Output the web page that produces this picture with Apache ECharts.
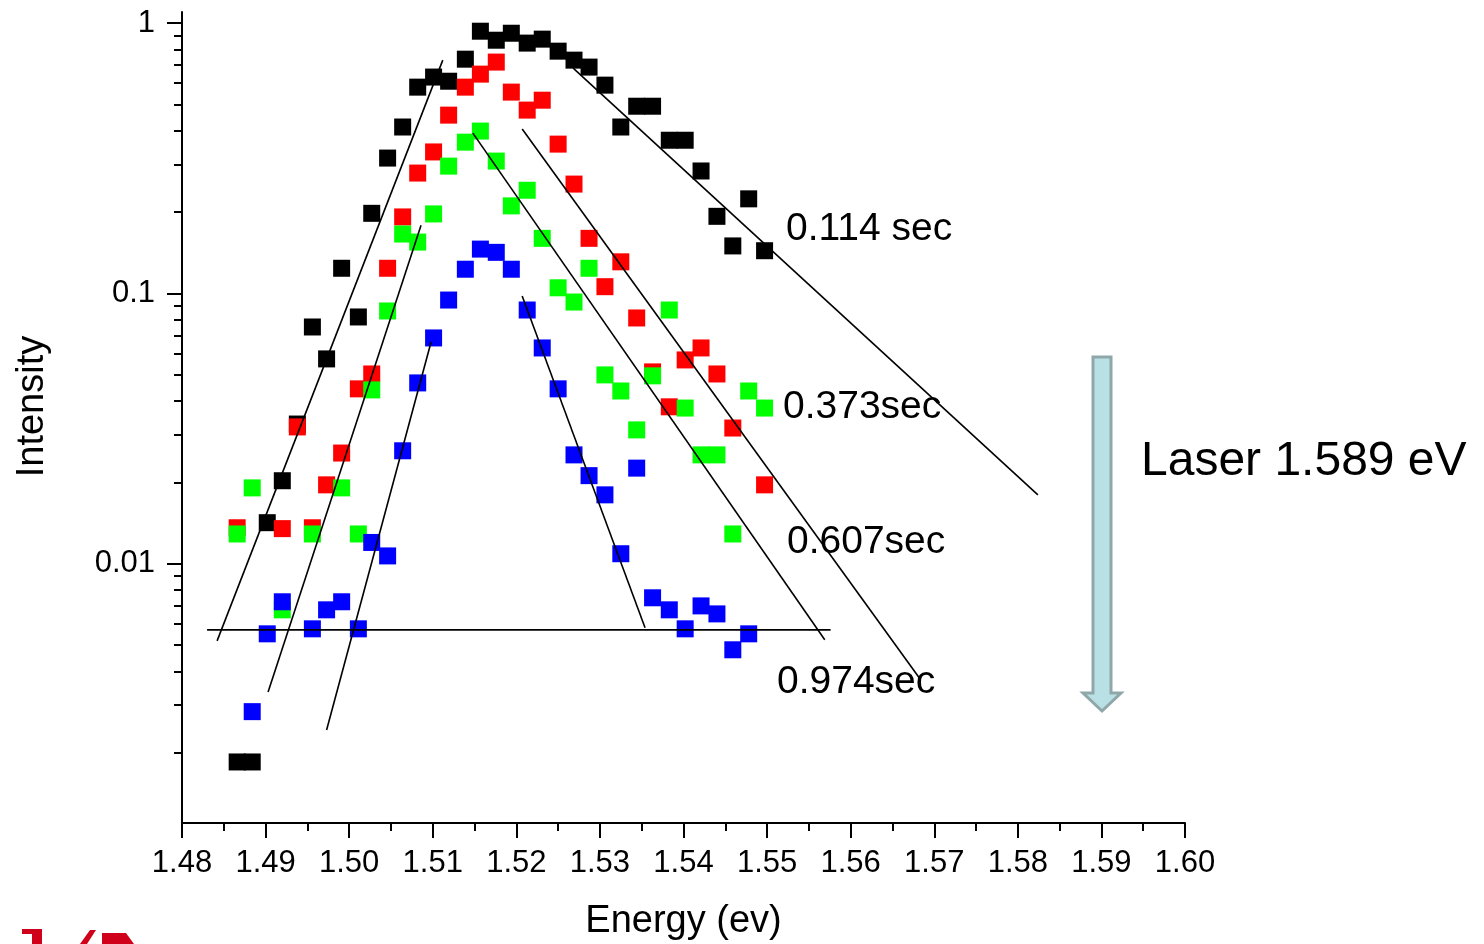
<!DOCTYPE html>
<html>
<head>
<meta charset="utf-8">
<script src="https://cdn.jsdelivr.net/npm/echarts/dist/echarts.min.js"></script>
<style>
  html, body { margin: 0; background: #fff; }
  #chart { width: 1484px; height: 944px; }
</style>
</head>
<body>
<div id="chart"></div>
<script>
// photon energy (eV), shared by all four time slices
const energy = [1.4866, 1.4884, 1.4902, 1.4920, 1.4938, 1.4956, 1.4973, 1.4991, 1.5011, 1.5027,
  1.5046, 1.5064, 1.5082, 1.5101, 1.5119, 1.5139, 1.5157, 1.5176, 1.5194, 1.5213,
  1.5231, 1.5250, 1.5269, 1.5287, 1.5306, 1.5325, 1.5344, 1.5363, 1.5383, 1.5402,
  1.5421, 1.5440, 1.5459, 1.5478, 1.5497];

const int114 = [0.00185, 0.00185, 0.0142, 0.0203, 0.0329, 0.0752, 0.0573, 0.124, 0.0819, 0.198,
  0.317, 0.413, 0.580, 0.632, 0.610, 0.736, 0.934, 0.865, 0.918, 0.844,
  0.873, 0.788, 0.730, 0.688, 0.590, 0.413, 0.493, 0.493, 0.369, 0.369,
  0.284, 0.193, 0.150, 0.224, 0.144];
const int373 = [0.0136, null, null, 0.0135, 0.0321, 0.0136, 0.0196, 0.0257, 0.0444, 0.0504,
  0.124, 0.192, 0.279, 0.334, 0.457, 0.580, 0.648, 0.718, 0.556, 0.477,
  0.519, 0.357, 0.254, 0.160, 0.106, 0.131, 0.0812, 0.0513, 0.0381, 0.0568,
  0.0629, 0.0504, 0.0318, null, 0.0196];
const int607 = [0.0129, 0.0191, null, 0.00676, null, 0.0129, null, 0.0191, 0.0129, 0.0440,
  0.0862, 0.166, 0.155, 0.197, 0.296, 0.363, 0.399, 0.309, 0.211, 0.241,
  0.160, 0.105, 0.0930, 0.124, 0.0500, 0.0436, 0.0313, 0.0496, 0.0869, 0.0377,
  0.0253, 0.0253, 0.0129, 0.0436, 0.0377];
const int974 = [null, 0.00284, 0.00551, 0.00724, null, 0.00575, 0.00676, 0.00724, 0.00575, 0.0120,
  0.0107, 0.0262, 0.0467, 0.0685, 0.0946, 0.123, 0.146, 0.142, 0.123, 0.0869,
  0.0629, 0.0444, 0.0253, 0.0212, 0.0180, 0.0109, 0.0226, 0.00749, 0.00676, 0.00575,
  0.00699, 0.00653, 0.00481, 0.00551, null];

// straight guide lines drawn on the plot: [[E1, I1], [E2, I2]]
const riseA = [[1.4842, 0.00519], [1.5112, 0.730]];
const riseB = [[1.4903, 0.00336], [1.5086, 0.179]];
const riseC = [[1.4973, 0.00243], [1.5098, 0.0662]];
const fall114 = [[1.5268, 0.682], [1.5824, 0.0180]];
const fall373 = [[1.5207, 0.406], [1.5682, 0.00379]];
const fall607 = [[1.5148, 0.392], [1.5569, 0.00524]];
const fall974 = [[1.5207, 0.0979], [1.5354, 0.00580]];
const floorLine = [[1.4830, 0.00570], [1.5576, 0.00570]];

const yMajor = [0.01, 0.1, 1];
const yMinor = [];
[0.001, 0.01, 0.1].forEach(d => { for (let k = 2; k <= 9; k++) yMinor.push(+(d * k).toPrecision(2)); });

const FONT = '"Liberation Sans", Arial, sans-serif';
const pair = (ys) => energy.map((e, i) => ys[i] == null ? null : [e, ys[i]]).filter(p => p);

const scatter = (name, ys, color) => ({
  name, type: 'scatter', data: pair(ys),
  symbol: 'rect', symbolSize: 17,
  itemStyle: { color, opacity: 1 }
});
const guide = (pts) => ({
  type: 'line', data: pts, showSymbol: false, silent: true,
  lineStyle: { color: '#000', width: 1.6 }
});

const chart = echarts.init(document.getElementById('chart'));
chart.setOption({
  animation: false,
  backgroundColor: '#fff',
  textStyle: { fontFamily: FONT },
  grid: { left: 182, right: 299, top: 12, bottom: 121, containLabel: false, outerBoundsMode: 'none' },
  xAxis: {
    type: 'value', min: 1.48, max: 1.60, interval: 0.01,
    name: 'Energy (ev)', nameLocation: 'middle', nameGap: 80,
    nameTextStyle: { fontSize: 38, color: '#000', fontFamily: FONT },
    axisLine: { lineStyle: { color: '#000', width: 2 } },
    axisTick: { length: 15, lineStyle: { color: '#000', width: 2 } },
    minorTick: { show: true, splitNumber: 2, length: 8, lineStyle: { color: '#000', width: 2 } },
    splitLine: { show: false },
    axisLabel: { fontSize: 31, color: '#000', margin: 25, fontFamily: FONT,
      formatter: v => v.toFixed(2) }
  },
  yAxis: [{
    type: 'log', min: 0.0011, max: 1.1, position: 'left',
    name: 'Intensity', nameLocation: 'middle', nameGap: 130,
    nameTextStyle: { fontSize: 38, color: '#000', fontFamily: FONT, padding: [0, 0, 0, 22] },
    axisLine: { show: true, lineStyle: { color: '#000', width: 2 } },
    axisTick: { customValues: yMajor, length: 15, lineStyle: { color: '#000', width: 2 } },
    splitLine: { show: false },
    axisLabel: { customValues: yMajor, fontSize: 31, color: '#000', margin: 27, fontFamily: FONT,
      formatter: v => String(+v.toPrecision(3)) }
  }, {
    type: 'log', min: 0.0011, max: 1.1, position: 'left',
    axisLine: { show: false },
    axisTick: { customValues: yMinor, length: 8, lineStyle: { color: '#000', width: 2 } },
    splitLine: { show: false },
    axisLabel: { show: false }
  }],
  series: [
    scatter('0.114 sec', int114, '#000000'),
    scatter('0.373 sec', int373, '#ff0000'),
    scatter('0.607 sec', int607, '#00ff00'),
    scatter('0.974 sec', int974, '#0000ff'),
    guide(riseA), guide(riseB), guide(riseC),
    guide(fall114), guide(fall373), guide(fall607), guide(fall974),
    guide(floorLine)
  ],
  graphic: [
    { type: 'text', x: 786, y: 229, style: { text: '0.114 sec', font: '39px ' + FONT, fill: '#000', verticalAlign: 'middle' } },
    { type: 'text', x: 783, y: 407, style: { text: '0.373sec', font: '39px ' + FONT, fill: '#000', verticalAlign: 'middle' } },
    { type: 'text', x: 787, y: 542, style: { text: '0.607sec', font: '39px ' + FONT, fill: '#000', verticalAlign: 'middle' } },
    { type: 'text', x: 777, y: 682, style: { text: '0.974sec', font: '39px ' + FONT, fill: '#000', verticalAlign: 'middle' } },
    { type: 'text', x: 1141, y: 462, style: { text: 'Laser 1.589 eV', font: '48px ' + FONT, fill: '#000', verticalAlign: 'middle' } },
    { type: 'polygon', shape: { points: [[1093, 357], [1111, 357], [1111, 693], [1121, 693], [1102, 711], [1083, 693], [1093, 693]] },
      style: { fill: '#b9e1e5', stroke: '#8fa7a9', lineWidth: 3 } },
    // cropped logo at the lower-left corner
    { type: 'rect', shape: { x: 22, y: 929, width: 20, height: 5 }, style: { fill: '#d0021b' } },
    { type: 'rect', shape: { x: 32, y: 929, width: 10, height: 15 }, style: { fill: '#d0021b' } },
    { type: 'polygon', shape: { points: [[80, 944], [90, 930], [96, 930], [87, 944]] }, style: { fill: '#d0021b' } },
    { type: 'polygon', shape: { points: [[102, 933], [126, 933], [134, 944], [102, 944]] }, style: { fill: '#d0021b' } }
  ]
});
</script>
</body>
</html>
